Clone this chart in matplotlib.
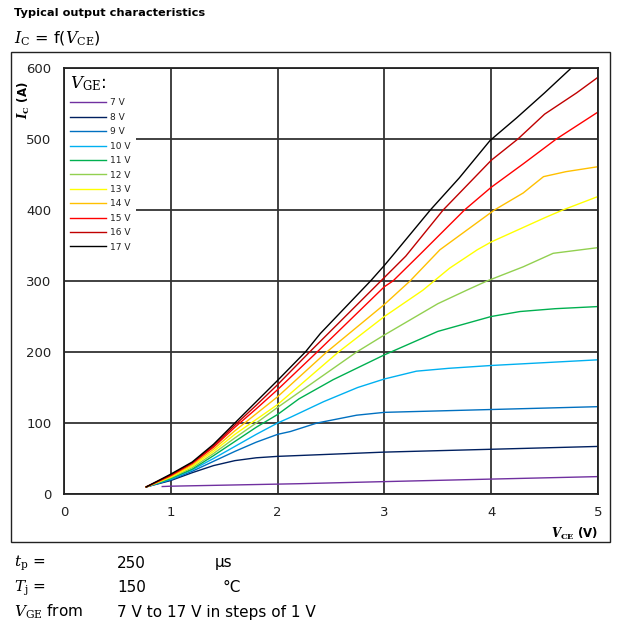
import matplotlib.pyplot as plt
from matplotlib.patches import Rectangle

plt.rcParams['mathtext.fontset'] = 'dejavuserif'

# Output curves I_C = f(V_CE), one per gate voltage
vge_labels = ['7 V', '8 V', '9 V', '10 V', '11 V', '12 V', '13 V', '14 V', '15 V', '16 V', '17 V']
colors = ['#7030A0', '#002060', '#0070C0', '#00B0F0', '#00B050', '#92D050',
          '#FFFF00', '#FFC000', '#FF0000', '#C00000', '#000000']

v_7 = [0.92, 1.0, 2.2, 2.96, 4.0, 5.0]
i_7 = [10.5, 11, 14.5, 17.3, 21, 24.5]

v_8 = [0.77, 1.0, 1.2, 1.4, 1.6, 1.8, 2.0, 2.5, 3.0, 3.5, 4.0, 4.5, 5.0]
i_8 = [10, 19, 30, 40, 47, 51, 53, 56, 59, 61, 63, 65, 67]

v_9 = [0.77, 1.0, 1.2, 1.4, 1.6, 1.8, 2.0, 2.12, 2.37, 2.74, 3.0, 3.5, 4.0, 4.5, 5.0]
i_9 = [10, 20, 32, 46, 60, 73, 84, 88, 100, 111, 115, 117, 119, 121, 123]

v_10 = [0.77, 1.0, 1.2, 1.4, 1.6, 1.8, 2.0, 2.12, 2.43, 2.75, 3.0, 3.3, 3.6, 4.0, 4.5, 5.0]
i_10 = [10, 21, 34, 50, 67, 84, 100, 108, 130, 150, 162, 173, 177, 181, 185, 189]

v_11 = [0.77, 1.0, 1.2, 1.4, 1.6, 1.8, 2.0, 2.2, 2.52, 3.0, 3.5, 4.0, 4.27, 4.6, 5.0]
i_11 = [10, 22, 35, 54, 74, 94, 112, 134, 161, 196, 229, 250, 257, 261, 264]

v_12 = [0.77, 1.0, 1.2, 1.4, 1.6, 1.8, 2.0, 2.37, 2.74, 3.0, 3.5, 3.77, 3.96, 4.3, 4.58, 5.0]
i_12 = [10, 23, 37, 57, 79, 100, 122, 161, 200, 224, 268, 287, 300, 320, 339, 347]

v_13 = [0.77, 1.0, 1.2, 1.4, 1.6, 1.8, 2.0, 2.57, 3.0, 3.36, 3.61, 3.87, 4.0, 4.5, 4.67, 5.0]
i_13 = [10, 24, 39, 60, 84, 105, 126, 200, 250, 287, 318, 344, 355, 389, 400, 419]

v_14 = [0.77, 1.0, 1.2, 1.4, 1.6, 1.8, 2.0, 2.46, 3.0, 3.24, 3.52, 4.03, 4.3, 4.39, 4.49, 4.7, 5.0]
i_14 = [10, 25, 41, 63, 89, 113, 137, 200, 267, 300, 344, 400, 424, 435, 447, 454, 461]

v_15 = [0.77, 1.0, 1.2, 1.4, 1.6, 1.8, 2.0, 2.37, 3.0, 3.08, 3.33, 3.75, 4.0, 4.3, 4.61, 5.0]
i_15 = [10, 26, 43, 66, 94, 120, 147, 200, 292, 300, 337, 400, 432, 465, 500, 538]

v_16 = [0.77, 1.0, 1.2, 1.4, 1.6, 1.8, 2.0, 2.3, 3.0, 3.2, 3.55, 4.0, 4.25, 4.5, 4.8, 5.0]
i_16 = [10, 27, 44, 68, 97, 125, 154, 200, 305, 335, 400, 470, 500, 535, 565, 587]

v_17 = [0.77, 1.0, 1.2, 1.4, 1.6, 1.8, 2.0, 2.26, 2.4, 2.87, 3.0, 3.1, 3.43, 3.7, 3.99, 4.24, 4.5, 4.75]
i_17 = [10, 28, 45, 70, 100, 130, 160, 200, 226, 300, 322, 340, 400, 445, 498, 530, 565, 600]

v_curves = [v_7, v_8, v_9, v_10, v_11, v_12, v_13, v_14, v_15, v_16, v_17]
i_curves = [i_7, i_8, i_9, i_10, i_11, i_12, i_13, i_14, i_15, i_16, i_17]

x_ticks = [0, 1, 2, 3, 4, 5]
y_ticks = [0, 100, 200, 300, 400, 500, 600]

fig = plt.figure(figsize=(6.22, 6.26), dpi=100)
ax = fig.add_axes([64 / 622, 1 - 494 / 626, 534 / 622, 426 / 626])

for v, i, c, lab in zip(v_curves, i_curves, colors, vge_labels):
    ax.plot(v, i, color=c, linewidth=1.0, label=lab)

ax.set_xlim(0, 5)
ax.set_ylim(0, 600)
ax.set_xticks(x_ticks)
ax.set_yticks(y_ticks)
ax.grid(True, color='#333333', linewidth=1.3)
ax.set_axisbelow(True)
ax.tick_params(length=0, labelsize=9.5, colors='#222222')
ax.tick_params(axis='y', pad=9)
ax.tick_params(axis='x', pad=9)
for s in ax.spines.values():
    s.set_color('#222222')
    s.set_linewidth(1.3)

leg = ax.legend(loc='upper left', fontsize=6.5, title=r'$V_{\mathrm{GE}}$:',
                title_fontsize=12, alignment='left', frameon=True, fancybox=False,
                framealpha=1, edgecolor='none', borderaxespad=0.1, borderpad=0.6,
                handlelength=3.9, handletextpad=0.5, labelspacing=0.6)
for t in leg.get_texts():
    t.set_color('#222222')

# axis labels
fig.text(24 / 622, 1 - 100 / 626, r'$\mathbfit{I}_{\mathbf{C}}$ (A)', rotation=90,
         ha='center', va='center', fontsize=8.5, fontweight='bold')
fig.text(598 / 622, 1 - 534 / 626, r'$\mathbfit{V}_{\mathbf{CE}}$ (V)',
         ha='right', va='center', fontsize=8.5, fontweight='bold')

# outer frame
fig.patches.append(Rectangle((11 / 622, 1 - 542 / 626), 599 / 622, 490 / 626,
                             transform=fig.transFigure, fill=False,
                             edgecolor='#222222', linewidth=1.0))

fig.text(14 / 622, 1 - 13 / 626, 'Typical output characteristics',
         ha='left', va='center', fontsize=8.2, fontweight='bold')
fig.text(14 / 622, 1 - 39 / 626, r'$I_{\mathrm{C}}$ = f($V_{\mathrm{CE}}$)',
         ha='left', va='center', fontsize=11.5)

# test conditions
fig.text(14 / 622, 1 - 563 / 626, r'$t_{\mathrm{p}}$ =', ha='left', va='center', fontsize=11)
fig.text(117 / 622, 1 - 563 / 626, '250', ha='left', va='center', fontsize=11)
fig.text(215 / 622, 1 - 563 / 626, 'µs', ha='left', va='center', fontsize=11)
fig.text(14 / 622, 1 - 588 / 626, r'$T_{\mathrm{j}}$ =', ha='left', va='center', fontsize=11)
fig.text(117 / 622, 1 - 588 / 626, '150', ha='left', va='center', fontsize=11)
fig.text(222 / 622, 1 - 588 / 626, '°C', ha='left', va='center', fontsize=11)
fig.text(14 / 622, 1 - 612 / 626, r'$V_{\mathrm{GE}}$ from', ha='left', va='center', fontsize=11)
fig.text(117 / 622, 1 - 612 / 626, '7 V to 17 V in steps of 1 V', ha='left', va='center', fontsize=11)

plt.savefig('out.png', dpi=100)
